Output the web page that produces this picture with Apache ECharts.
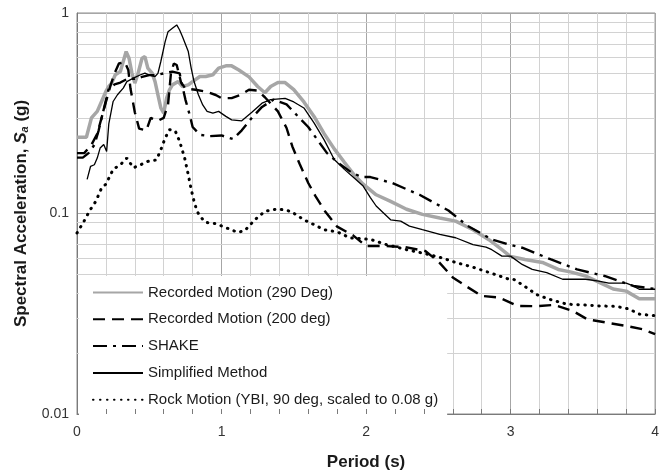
<!DOCTYPE html>
<html>
<head>
<meta charset="utf-8">
<script src="https://cdn.jsdelivr.net/npm/echarts@6/dist/echarts.min.js"></script>
<style>
  html, body { margin: 0; padding: 0; background: #fff; }
  #chart { width: 662px; height: 476px; }
</style>
</head>
<body>
<div id="chart"></div>
<script>
// legend names
const seriesNames = [
  'Recorded Motion (290 Deg)',
  'Recorded Motion (200 deg)',
  'SHAKE',
  'Simplified Method',
  'Rock Motion (YBI, 90 deg, scaled to 0.08 g)'
]

// [period (s), Sa (g)]
const rec290 = [
  [0, 0.24], [0.065, 0.24], [0.1, 0.30], [0.14, 0.323], [0.17, 0.362], [0.2, 0.406], [0.22, 0.43],
  [0.24, 0.447], [0.265, 0.492], [0.3, 0.511], [0.32, 0.573], [0.34, 0.642], [0.36, 0.595],
  [0.38, 0.501], [0.4, 0.447], [0.42, 0.492], [0.45, 0.595], [0.47, 0.606], [0.49, 0.531],
  [0.52, 0.501], [0.54, 0.455], [0.56, 0.391], [0.58, 0.336], [0.6, 0.317], [0.62, 0.376],
  [0.64, 0.414], [0.66, 0.438], [0.7, 0.455], [0.73, 0.43], [0.77, 0.438], [0.8, 0.455],
  [0.85, 0.482], [0.89, 0.482], [0.94, 0.492], [0.98, 0.531], [1.03, 0.545], [1.07, 0.545],
  [1.12, 0.52], [1.19, 0.48], [1.25, 0.43], [1.3, 0.40], [1.34, 0.43], [1.39, 0.45], [1.44, 0.45],
  [1.5, 0.415], [1.57, 0.36], [1.64, 0.305], [1.71, 0.25], [1.78, 0.21], [1.85, 0.18],
  [1.92, 0.155], [1.98, 0.14], [2.07, 0.124], [2.17, 0.115], [2.28, 0.105], [2.39, 0.099],
  [2.51, 0.095], [2.62, 0.0916], [2.74, 0.083], [2.85, 0.074], [2.94, 0.066], [3.0, 0.061],
  [3.1, 0.059], [3.22, 0.057], [3.33, 0.0526], [3.42, 0.051], [3.52, 0.0488], [3.61, 0.0455],
  [3.71, 0.042], [3.8, 0.041], [3.89, 0.0376], [4.0, 0.0376]
]

const rec200 = [
  [0, 0.20], [0.05, 0.20], [0.1, 0.22], [0.14, 0.25], [0.17, 0.30], [0.2, 0.36], [0.23, 0.43],
  [0.26, 0.50], [0.29, 0.56], [0.33, 0.57], [0.355, 0.52], [0.37, 0.42], [0.4, 0.32],
  [0.43, 0.265], [0.48, 0.26], [0.51, 0.30], [0.56, 0.29], [0.6, 0.30], [0.63, 0.35],
  [0.65, 0.50], [0.67, 0.56], [0.69, 0.55], [0.72, 0.45], [0.75, 0.42], [0.82, 0.414],
  [0.89, 0.406], [0.96, 0.39], [1.0, 0.376], [1.07, 0.376], [1.13, 0.39], [1.19, 0.414],
  [1.25, 0.41], [1.3, 0.38], [1.39, 0.323], [1.45, 0.267], [1.49, 0.216], [1.54, 0.177],
  [1.6, 0.142], [1.65, 0.122], [1.72, 0.1016], [1.8, 0.086], [1.91, 0.0778], [2.0, 0.0688],
  [2.14, 0.0688], [2.27, 0.068], [2.41, 0.065], [2.5, 0.0577], [2.6, 0.048], [2.69, 0.0435],
  [2.8, 0.0388], [2.92, 0.0381], [3.05, 0.0346], [3.18, 0.0345], [3.3, 0.035], [3.43, 0.0327],
  [3.53, 0.0297], [3.66, 0.0286], [3.8, 0.0275], [3.91, 0.0265], [4.0, 0.025]
]

const shake = [
  [0, 0.19], [0.04, 0.19], [0.08, 0.20], [0.12, 0.22], [0.15, 0.26], [0.18, 0.32], [0.22, 0.42],
  [0.26, 0.44], [0.3, 0.45], [0.35, 0.47], [0.4, 0.47], [0.45, 0.48], [0.5, 0.49], [0.55, 0.49],
  [0.6, 0.5], [0.66, 0.51], [0.71, 0.50], [0.75, 0.37], [0.78, 0.31], [0.8, 0.27], [0.85, 0.247],
  [0.92, 0.243], [1.0, 0.245], [1.08, 0.235], [1.14, 0.26], [1.21, 0.30], [1.28, 0.34],
  [1.36, 0.37], [1.45, 0.35], [1.52, 0.31], [1.6, 0.27], [1.66, 0.235], [1.73, 0.2],
  [1.82, 0.176], [1.9, 0.16], [1.97, 0.152], [2.03, 0.152], [2.18, 0.142], [2.37, 0.124],
  [2.57, 0.1035], [2.7, 0.087], [2.87, 0.0743], [2.99, 0.070], [3.08, 0.0675], [3.28, 0.059],
  [3.46, 0.0526], [3.65, 0.0488], [3.85, 0.0435], [4.0, 0.042]
]

const simplified = [
  [0.07, 0.148], [0.094, 0.172], [0.12, 0.175], [0.14, 0.189], [0.16, 0.212], [0.185, 0.221],
  [0.205, 0.204], [0.22, 0.28], [0.25, 0.362], [0.28, 0.391], [0.32, 0.422], [0.345, 0.455],
  [0.39, 0.473], [0.44, 0.492], [0.47, 0.501], [0.5, 0.49], [0.54, 0.482], [0.56, 0.50],
  [0.58, 0.573], [0.61, 0.72], [0.63, 0.807], [0.66, 0.839], [0.69, 0.872], [0.71, 0.823],
  [0.73, 0.762], [0.77, 0.642], [0.79, 0.531], [0.81, 0.455], [0.84, 0.391], [0.87, 0.348],
  [0.9, 0.323], [0.94, 0.317], [0.98, 0.323], [1.03, 0.305], [1.07, 0.293], [1.14, 0.29],
  [1.21, 0.32], [1.28, 0.355], [1.34, 0.37], [1.44, 0.375], [1.5, 0.36], [1.57, 0.336],
  [1.64, 0.283], [1.71, 0.233], [1.78, 0.186], [1.85, 0.166], [1.92, 0.15], [1.98, 0.137],
  [2.03, 0.12], [2.07, 0.109], [2.17, 0.093], [2.24, 0.0916], [2.3, 0.0865], [2.39, 0.083],
  [2.51, 0.0787], [2.62, 0.0757], [2.74, 0.07], [2.83, 0.068], [2.87, 0.066], [2.94, 0.0613],
  [3.0, 0.0613], [3.08, 0.0557], [3.15, 0.0526], [3.25, 0.0507], [3.36, 0.047], [3.52, 0.047],
  [3.61, 0.046], [3.68, 0.0449], [3.8, 0.0449], [3.84, 0.0438], [3.89, 0.0419], [4.0, 0.0419]
]

const rock = [
  [0, 0.08], [0.05, 0.092], [0.09, 0.104], [0.13, 0.115], [0.17, 0.134], [0.2, 0.14],
  [0.25, 0.166], [0.3, 0.175], [0.345, 0.189], [0.39, 0.169], [0.44, 0.175], [0.49, 0.182],
  [0.55, 0.185], [0.58, 0.208], [0.61, 0.238], [0.64, 0.262], [0.68, 0.258], [0.71, 0.229],
  [0.745, 0.189], [0.77, 0.156], [0.79, 0.132], [0.81, 0.115], [0.83, 0.103], [0.85, 0.097],
  [0.89, 0.0903], [0.96, 0.089], [1.03, 0.085], [1.11, 0.0806], [1.16, 0.082], [1.23, 0.093],
  [1.3, 0.1025], [1.39, 0.1055], [1.48, 0.1025], [1.57, 0.093], [1.64, 0.088], [1.71, 0.083],
  [1.8, 0.081], [1.89, 0.0755], [2.03, 0.0743], [2.14, 0.070], [2.28, 0.066], [2.39, 0.0635],
  [2.51, 0.0605], [2.62, 0.057], [2.74, 0.054], [2.85, 0.0508], [2.99, 0.047], [3.02, 0.047],
  [3.09, 0.0437], [3.18, 0.0394], [3.27, 0.0373], [3.39, 0.0353], [3.5, 0.035], [3.61, 0.0346],
  [3.73, 0.0344], [3.82, 0.0334], [3.89, 0.0315], [3.98, 0.031], [4.0, 0.031]
]

// minor horizontal grid lines of the log axis
const minorGridY = [0.02, 0.03, 0.04, 0.05, 0.06, 0.07, 0.08, 0.09,
  0.2, 0.3, 0.4, 0.5, 0.6, 0.7, 0.8, 0.9]

const font = 'Arial, "Liberation Sans", sans-serif'

let myChart = echarts.init(document.getElementById('chart'))

function lineSeries(name, data, color, width, type, cap) {
  return {
    name: name,
    type: 'line',
    data: data,
    symbol: 'none',
    showSymbol: false,
    z: 3,
    lineStyle: { color: color, width: width, type: type, cap: cap || 'butt' },
    itemStyle: { color: color }
  }
}

let option = {
  animation: false,
  backgroundColor: '#fff',
  grid: {
    left: 77, right: 1, top: 13, bottom: 61,
    show: true, borderColor: '#8c8c8c', borderWidth: 1
  },
  legend: {
    data: seriesNames,
    orient: 'vertical',
    left: 79,
    top: 276,
    padding: [9, 9, 10, 13],
    itemWidth: 50,
    itemHeight: 14,
    itemGap: 11.8,
    backgroundColor: '#fff',
    itemStyle: { opacity: 0 },
    textStyle: { fontFamily: font, fontSize: 15, lineHeight: 14, color: '#1a1a1a' }
  },
  xAxis: [
    {
      type: 'value', min: 0, max: 4, interval: 1,
      name: 'Period (s)', nameLocation: 'middle', nameGap: 40,
      nameTextStyle: { fontFamily: font, fontSize: 17, fontWeight: 'bold', color: '#1a1a1a' },
      axisLine: { show: true, lineStyle: { color: '#7a7a7a', width: 1 } },
      axisTick: { show: false },
      axisLabel: { fontFamily: font, fontSize: 14, color: '#333', margin: 11 },
      splitLine: { show: true, lineStyle: { color: '#a6a6a6', width: 1 } },
      minorTick: { show: false, splitNumber: 5 },
      minorSplitLine: { show: true, lineStyle: { color: '#d2d2d2', width: 1 } }
    },
    {
      // tick marks drawn over the legend box
      type: 'value', min: 0, max: 4, interval: 1, position: 'bottom', z: 10,
      axisLine: { show: false },
      axisLabel: { show: false },
      splitLine: { show: false },
      axisTick: { show: true, inside: true, length: 5, lineStyle: { color: '#7a7a7a' } },
      minorTick: { show: true, splitNumber: 5, length: 5, lineStyle: { color: '#7a7a7a' } }
    }
  ],
  yAxis: {
    type: 'log', logBase: 10, min: 0.01, max: 1,
    name: '{n|Spectral Acceleration, }{i|S}{s|a}{n| (g)}',
    nameLocation: 'middle', nameGap: 46,
    nameTextStyle: {
      rich: {
        n: { fontFamily: font, fontSize: 17, fontWeight: 'bold', color: '#1a1a1a' },
        i: { fontFamily: font, fontSize: 17, fontWeight: 'bold', fontStyle: 'italic', color: '#1a1a1a' },
        s: { fontFamily: font, fontSize: 11, fontWeight: 'bold', fontStyle: 'italic', color: '#1a1a1a', padding: [9, 0, 0, 0] }
      }
    },
    axisLine: { show: true, lineStyle: { color: '#7a7a7a', width: 1 } },
    axisTick: { show: false },
    axisLabel: { fontFamily: font, fontSize: 14, color: '#333', margin: 8 },
    splitLine: { show: true, lineStyle: { color: '#a6a6a6', width: 1 } }
  },
  series: [
    {
      type: 'line',
      data: [],
      z: 1,
      silent: true,
      markLine: {
        silent: true,
        z: 1,
        symbol: ['none', 'none'],
        label: { show: false },
        lineStyle: { color: '#d2d2d2', width: 1, type: 'solid' },
        data: minorGridY.map(v => ({ yAxis: v }))
      }
    },
    lineSeries(seriesNames[0], rec290, '#a6a6a6', 3.5, 'solid'),
    lineSeries(seriesNames[1], rec200, '#000', 2.4, [12, 7]),
    lineSeries(seriesNames[2], shake, '#000', 2.4, [14, 6, 3, 6]),
    lineSeries(seriesNames[3], simplified, '#000', 1.3, 'solid'),
    lineSeries(seriesNames[4], rock, '#000', 3, [0.5, 6.5], 'round')
  ]
}

myChart.setOption(option)
</script>
</body>
</html>
